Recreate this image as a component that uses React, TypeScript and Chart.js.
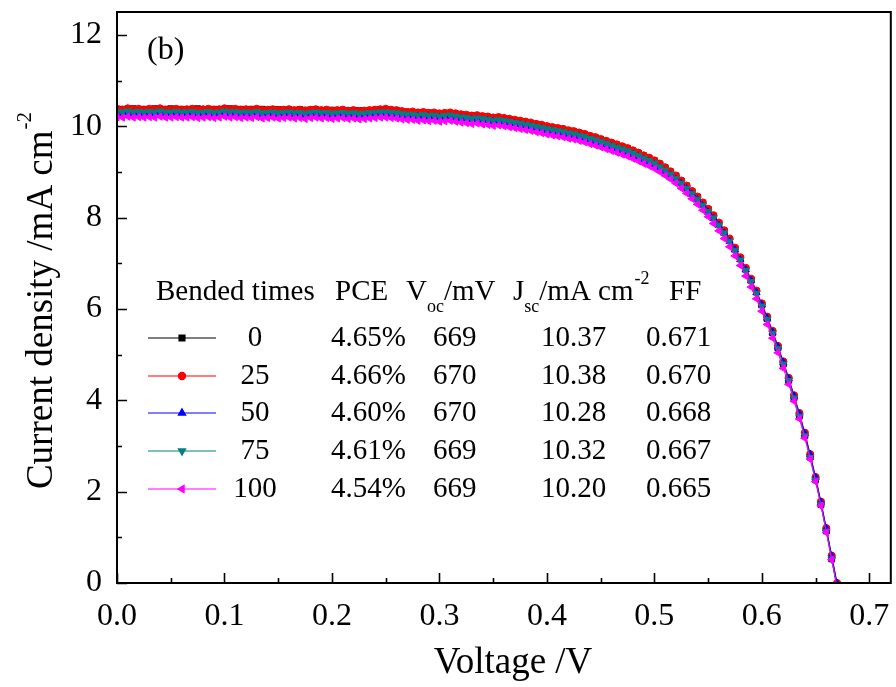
import React, { useEffect, useRef } from 'react';
import { Chart, registerables } from 'chart.js';
import { drawPoint } from 'chart.js/helpers';

Chart.register(...registerables);

const VOLTAGE = [
  0, 0.005, 0.01, 0.015, 0.02, 0.025, 0.03, 0.035, 0.04, 0.045,
  0.05, 0.055, 0.06, 0.065, 0.07, 0.075, 0.08, 0.085, 0.09, 0.095,
  0.1, 0.105, 0.11, 0.115, 0.12, 0.125, 0.13, 0.135, 0.14, 0.145,
  0.15, 0.155, 0.16, 0.165, 0.17, 0.175, 0.18, 0.185, 0.19, 0.195,
  0.2, 0.205, 0.21, 0.215, 0.22, 0.225, 0.23, 0.235, 0.24, 0.245,
  0.25, 0.255, 0.26, 0.265, 0.27, 0.275, 0.28, 0.285, 0.29, 0.295,
  0.3, 0.305, 0.31, 0.315, 0.32, 0.325, 0.33, 0.335, 0.34, 0.345,
  0.35, 0.355, 0.36, 0.365, 0.37, 0.375, 0.38, 0.385, 0.39, 0.395,
  0.4,
  0.405, 0.41, 0.415, 0.42, 0.425, 0.43, 0.435, 0.44, 0.445, 0.45,
  0.455, 0.46, 0.465, 0.47, 0.475, 0.48, 0.485, 0.49, 0.495, 0.5,
  0.505, 0.51, 0.515, 0.52, 0.525, 0.53, 0.535, 0.54, 0.545, 0.55,
  0.555, 0.56, 0.565, 0.57, 0.575, 0.58, 0.585, 0.59, 0.595, 0.6,
  0.605, 0.61, 0.615, 0.62, 0.625, 0.63, 0.635, 0.64, 0.645, 0.65,
  0.655, 0.66, 0.665, 0.67,
];

const J_BEND_0 = [
  10.37, 10.37, 10.36, 10.38, 10.36, 10.37, 10.36, 10.38, 10.36, 10.37,
  10.38, 10.36, 10.37, 10.36, 10.37, 10.38, 10.36, 10.36, 10.37, 10.36,
  10.37, 10.38, 10.36, 10.37, 10.36, 10.37, 10.36, 10.37, 10.35, 10.36,
  10.36, 10.35, 10.36, 10.34, 10.36, 10.35, 10.35, 10.36, 10.34, 10.35,
  10.35, 10.34, 10.35, 10.33, 10.34, 10.34, 10.33, 10.34, 10.35, 10.36,
  10.36, 10.35, 10.34, 10.32, 10.31, 10.30, 10.30, 10.29, 10.29, 10.28,
  10.28, 10.27, 10.28, 10.27, 10.25, 10.24, 10.23, 10.22, 10.21, 10.20,
  10.18, 10.18, 10.16, 10.15, 10.13, 10.11, 10.09, 10.06, 10.04, 10.02,
  9.99,
  9.97, 9.95, 9.93, 9.90, 9.88, 9.85, 9.82, 9.78, 9.75, 9.71,
  9.67, 9.63, 9.59, 9.55, 9.51, 9.46, 9.41, 9.35, 9.30, 9.24,
  9.17, 9.09, 9.00, 8.91, 8.80, 8.69, 8.57, 8.45, 8.32, 8.18,
  8.03, 7.87, 7.70, 7.52, 7.32, 7.10, 6.87, 6.63, 6.37, 6.09,
  5.79, 5.48, 5.15, 4.80, 4.44, 4.06, 3.66, 3.23, 2.76, 2.26,
  1.72, 1.14, 0.53, -0.09,
];

const J_BEND_25 = [
  10.38, 10.36, 10.39, 10.37, 10.38, 10.36, 10.38, 10.37, 10.39, 10.36,
  10.37, 10.38, 10.36, 10.37, 10.38, 10.36, 10.37, 10.38, 10.36, 10.37,
  10.39, 10.37, 10.38, 10.36, 10.37, 10.36, 10.38, 10.35, 10.36, 10.37,
  10.35, 10.36, 10.37, 10.35, 10.36, 10.34, 10.36, 10.37, 10.35, 10.36,
  10.34, 10.35, 10.36, 10.34, 10.35, 10.33, 10.34, 10.35, 10.36, 10.37,
  10.38, 10.36, 10.35, 10.33, 10.31, 10.32, 10.30, 10.31, 10.29, 10.30,
  10.28, 10.29, 10.30, 10.28, 10.26, 10.25, 10.23, 10.24, 10.22, 10.21,
  10.19, 10.20, 10.18, 10.16, 10.14, 10.12, 10.10, 10.08, 10.05, 10.03,
  10.00,
  9.98, 9.96, 9.94, 9.91, 9.89, 9.86, 9.83, 9.79, 9.76, 9.72,
  9.68, 9.64, 9.60, 9.56, 9.52, 9.47, 9.42, 9.36, 9.31, 9.25,
  9.18, 9.10, 9.01, 8.92, 8.81, 8.70, 8.58, 8.46, 8.33, 8.19,
  8.05, 7.89, 7.72, 7.54, 7.34, 7.13, 6.90, 6.66, 6.40, 6.12,
  5.83, 5.52, 5.19, 4.85, 4.49, 4.11, 3.72, 3.29, 2.82, 2.32,
  1.78, 1.20, 0.60, 0.00,
];

const J_BEND_50 = [
  10.28, 10.27, 10.29, 10.27, 10.28, 10.27, 10.28, 10.27, 10.29, 10.27,
  10.27, 10.28, 10.27, 10.27, 10.28, 10.26, 10.27, 10.28, 10.26, 10.27,
  10.29, 10.27, 10.28, 10.26, 10.27, 10.26, 10.28, 10.25, 10.26, 10.27,
  10.25, 10.26, 10.27, 10.25, 10.26, 10.24, 10.26, 10.27, 10.25, 10.26,
  10.24, 10.25, 10.26, 10.24, 10.25, 10.23, 10.24, 10.25, 10.26, 10.27,
  10.27, 10.26, 10.25, 10.23, 10.22, 10.22, 10.21, 10.21, 10.20, 10.20,
  10.19, 10.19, 10.20, 10.18, 10.17, 10.16, 10.14, 10.15, 10.13, 10.12,
  10.10, 10.11, 10.09, 10.07, 10.05, 10.03, 10.01, 9.99, 9.96, 9.94,
  9.91,
  9.89, 9.87, 9.85, 9.82, 9.80, 9.77, 9.74, 9.70, 9.67, 9.63,
  9.59, 9.55, 9.51, 9.47, 9.43, 9.38, 9.33, 9.27, 9.22, 9.16,
  9.09, 9.01, 8.93, 8.84, 8.74, 8.63, 8.51, 8.39, 8.26, 8.12,
  7.98, 7.83, 7.66, 7.48, 7.29, 7.08, 6.86, 6.62, 6.36, 6.09,
  5.80, 5.49, 5.17, 4.83, 4.47, 4.09, 3.70, 3.27, 2.81, 2.31,
  1.77, 1.19, 0.59, -0.01,
];

const J_BEND_75 = [
  10.32, 10.31, 10.33, 10.31, 10.32, 10.31, 10.32, 10.31, 10.33, 10.31,
  10.31, 10.32, 10.31, 10.31, 10.32, 10.30, 10.31, 10.32, 10.30, 10.31,
  10.33, 10.31, 10.32, 10.30, 10.31, 10.30, 10.32, 10.29, 10.30, 10.31,
  10.29, 10.30, 10.31, 10.29, 10.30, 10.28, 10.30, 10.31, 10.29, 10.30,
  10.28, 10.29, 10.30, 10.28, 10.29, 10.27, 10.28, 10.29, 10.30, 10.31,
  10.31, 10.30, 10.29, 10.27, 10.26, 10.26, 10.24, 10.25, 10.23, 10.24,
  10.22, 10.23, 10.24, 10.22, 10.20, 10.19, 10.17, 10.18, 10.16, 10.15,
  10.13, 10.14, 10.12, 10.10, 10.08, 10.06, 10.04, 10.02, 9.99, 9.97,
  9.94,
  9.92, 9.90, 9.88, 9.85, 9.83, 9.80, 9.77, 9.73, 9.70, 9.66,
  9.62, 9.58, 9.54, 9.50, 9.46, 9.41, 9.36, 9.30, 9.25, 9.19,
  9.12, 9.04, 8.95, 8.86, 8.75, 8.64, 8.52, 8.40, 8.27, 8.13,
  7.99, 7.83, 7.66, 7.48, 7.28, 7.07, 6.84, 6.60, 6.34, 6.06,
  5.77, 5.46, 5.13, 4.79, 4.43, 4.05, 3.65, 3.22, 2.75, 2.25,
  1.71, 1.13, 0.52, -0.10,
];

const J_BEND_100 = [
  10.20, 10.19, 10.21, 10.19, 10.20, 10.19, 10.20, 10.19, 10.21, 10.19,
  10.19, 10.20, 10.19, 10.19, 10.20, 10.18, 10.19, 10.20, 10.18, 10.19,
  10.21, 10.19, 10.20, 10.18, 10.19, 10.18, 10.20, 10.17, 10.18, 10.19,
  10.17, 10.18, 10.19, 10.17, 10.18, 10.16, 10.18, 10.19, 10.17, 10.18,
  10.16, 10.17, 10.18, 10.16, 10.17, 10.15, 10.16, 10.17, 10.18, 10.19,
  10.19, 10.18, 10.17, 10.15, 10.14, 10.14, 10.12, 10.13, 10.11, 10.12,
  10.10, 10.11, 10.12, 10.10, 10.08, 10.07, 10.05, 10.06, 10.04, 10.03,
  10.01, 10.02, 10.00, 9.98, 9.96, 9.94, 9.92, 9.90, 9.87, 9.85,
  9.82,
  9.80, 9.78, 9.76, 9.73, 9.71, 9.68, 9.65, 9.61, 9.58, 9.54,
  9.50, 9.46, 9.42, 9.38, 9.34, 9.29, 9.24, 9.18, 9.13, 9.07,
  9.00, 8.92, 8.84, 8.75, 8.64, 8.53, 8.41, 8.29, 8.16, 8.02,
  7.87, 7.71, 7.54, 7.36, 7.16, 6.95, 6.72, 6.48, 6.22, 5.95,
  5.66, 5.36, 5.04, 4.70, 4.35, 3.98, 3.59, 3.17, 2.71, 2.22,
  1.69, 1.11, 0.51, -0.11,
];

const SERIES_J = [J_BEND_0, J_BEND_25, J_BEND_50, J_BEND_75, J_BEND_100];
const BENDED_TIMES = ['0', '25', '50', '75', '100'];
const PCE = ['4.65%', '4.66%', '4.60%', '4.61%', '4.54%'];
const VOC = ['669', '670', '670', '669', '669'];
const JSC = ['10.37', '10.38', '10.28', '10.32', '10.20'];
const FF = ['0.671', '0.670', '0.668', '0.667', '0.665'];

const COLORS = ['#000000', '#ff0000', '#0000ff', '#008080', '#ff00ff'];
const POINT_STYLES = ['rect', 'circle', 'triangle', 'triangle', 'triangle'];
const POINT_ROTATIONS = [0, 0, 0, 180, -90];
const POINT_RADII = [4.2, 3.6, 4.2, 4.2, 4.2];

const X_TICKS = [0, 0.1, 0.2, 0.3, 0.4, 0.5, 0.6, 0.7];
const X_MINOR_TICKS = [0.05, 0.15, 0.25, 0.35, 0.45, 0.55, 0.65];
const Y_TICKS = [0, 2, 4, 6, 8, 10, 12];
const Y_MINOR_TICKS = [1, 3, 5, 7, 9, 11];

const FONT = '"Liberation Serif", "Times New Roman", serif';

const overlayPlugin = {
  id: 'overlay',
  afterDraw(chart: any) {
    const { ctx, chartArea, scales } = chart;
    const { left, right, top, bottom } = chartArea;
    const xs = scales.x;
    const ys = scales.y;
    ctx.save();
    ctx.strokeStyle = '#000';
    ctx.lineWidth = 1.6;
    ctx.beginPath();
    X_TICKS.forEach((v) => {
      const px = Math.round(xs.getPixelForValue(v)) + 0.5;
      ctx.moveTo(px, bottom);
      ctx.lineTo(px, bottom - 10);
    });
    X_MINOR_TICKS.forEach((v) => {
      const px = Math.round(xs.getPixelForValue(v)) + 0.5;
      ctx.moveTo(px, bottom);
      ctx.lineTo(px, bottom - 5);
    });
    Y_TICKS.forEach((v) => {
      const py = Math.round(ys.getPixelForValue(v)) + 0.5;
      ctx.moveTo(left, py);
      ctx.lineTo(left + 10, py);
    });
    Y_MINOR_TICKS.forEach((v) => {
      const py = Math.round(ys.getPixelForValue(v)) + 0.5;
      ctx.moveTo(left, py);
      ctx.lineTo(left + 5, py);
    });
    ctx.stroke();
    ctx.lineWidth = 2;
    ctx.strokeRect(left, top, right - left, bottom - top);

    ctx.fillStyle = '#000';
    ctx.textBaseline = 'middle';

    // x title
    ctx.font = `37px ${FONT}`;
    ctx.textAlign = 'center';
    ctx.fillText('Voltage /V', 513, 663);

    // y title with superscript
    const mainY = 'Current density /mA cm';
    const supY = '-2';
    ctx.font = `37px ${FONT}`;
    const wMain = ctx.measureText(mainY).width;
    ctx.font = `21px ${FONT}`;
    const wSup = ctx.measureText(supY).width;
    ctx.save();
    ctx.translate(42, 301);
    ctx.rotate(-Math.PI / 2);
    ctx.textAlign = 'left';
    const start = -(wMain + wSup) / 2;
    ctx.font = `37px ${FONT}`;
    ctx.fillText(mainY, start, 0);
    ctx.font = `21px ${FONT}`;
    ctx.fillText(supY, start + wMain + 1, -17);
    ctx.restore();

    // panel label
    ctx.font = `32px ${FONT}`;
    ctx.textAlign = 'left';
    ctx.fillText('(b)', 147, 51);

    // legend table
    const FS = 29;
    const SUB = 18;
    const headY = 292;
    ctx.font = `${FS}px ${FONT}`;
    ctx.textAlign = 'left';
    ctx.fillText('Bended times', 156, headY);
    ctx.fillText('PCE', 335, headY);
    let xx = 406;
    ctx.fillText('V', xx, headY);
    xx += ctx.measureText('V').width;
    ctx.font = `${SUB}px ${FONT}`;
    ctx.fillText('oc', xx, headY + 15);
    xx += ctx.measureText('oc').width;
    ctx.font = `${FS}px ${FONT}`;
    ctx.fillText('/mV', xx, headY);
    xx = 513;
    ctx.fillText('J', xx, headY);
    xx += ctx.measureText('J').width;
    ctx.font = `${SUB}px ${FONT}`;
    ctx.fillText('sc', xx, headY + 15);
    xx += ctx.measureText('sc').width;
    ctx.font = `${FS}px ${FONT}`;
    ctx.fillText('/mA cm', xx, headY);
    xx += ctx.measureText('/mA cm').width;
    ctx.font = `${SUB}px ${FONT}`;
    ctx.fillText('-2', xx + 1, headY - 13);
    ctx.font = `${FS}px ${FONT}`;
    ctx.fillText('FF', 669, headY);

    const rowY = [338, 376, 413, 451, 489];
    BENDED_TIMES.forEach((label, i) => {
      const y = rowY[i];
      ctx.strokeStyle = COLORS[i];
      ctx.fillStyle = COLORS[i];
      ctx.lineWidth = 1.2;
      ctx.beginPath();
      ctx.moveTo(148, y);
      ctx.lineTo(216, y);
      ctx.stroke();
      drawPoint(ctx, {
        pointStyle: POINT_STYLES[i],
        radius: POINT_RADII[i],
        rotation: POINT_ROTATIONS[i],
        borderWidth: 1,
      }, 182, y);
      ctx.fillStyle = '#000';
      ctx.font = `${FS}px ${FONT}`;
      ctx.textAlign = 'center';
      ctx.fillText(label, 255, y);
      ctx.textAlign = 'left';
      ctx.fillText(PCE[i], 331, y);
      ctx.fillText(VOC[i], 433, y);
      ctx.fillText(JSC[i], 541, y);
      ctx.fillText(FF[i], 646, y);
    });
    ctx.restore();
  },
};

export default function App() {
  const canvasRef = useRef<HTMLCanvasElement | null>(null);

  useEffect(() => {
    const canvas = canvasRef.current;
    if (!canvas) return;
    const datasets = SERIES_J.map((series, i) => ({
      label: BENDED_TIMES[i],
      data: VOLTAGE.map((v, k) => ({ x: v, y: series[k] })),
      borderColor: COLORS[i],
      backgroundColor: COLORS[i],
      borderWidth: 1,
      pointStyle: POINT_STYLES[i],
      pointRotation: POINT_ROTATIONS[i],
      pointRadius: POINT_RADII[i],
      pointBorderWidth: 1,
      pointBorderColor: COLORS[i],
      pointBackgroundColor: COLORS[i],
      tension: 0,
      order: SERIES_J.length - i,
    }));

    const chart = new Chart(canvas, {
      type: 'line',
      data: { datasets },
      options: {
        animation: false,
        responsive: false,
        maintainAspectRatio: false,
        devicePixelRatio: 1,
        layout: { padding: { left: 0, top: 12, right: 4, bottom: 0 } },
        plugins: {
          legend: { display: false },
          tooltip: { enabled: false },
          title: { display: false },
        },
        scales: {
          x: {
            type: 'linear',
            min: 0,
            max: 0.72,
            afterBuildTicks: (s: any) => {
              s.ticks = X_TICKS.map((v) => ({ value: v }));
            },
            afterFit: (s: any) => {
              s.height = 104;
              s.paddingLeft = 0;
              s.paddingRight = 0;
            },
            grid: { display: false },
            border: { display: false },
            ticks: {
              color: '#000',
              padding: 6,
              maxRotation: 0,
              autoSkip: false,
              font: { family: FONT, size: 32 },
              callback: (v: any) => Number(v).toFixed(1),
            },
          },
          y: {
            type: 'linear',
            min: 0,
            max: 12.5,
            afterBuildTicks: (s: any) => {
              s.ticks = Y_TICKS.map((v) => ({ value: v }));
            },
            afterFit: (s: any) => {
              s.width = 117;
              s.paddingTop = 0;
              s.paddingBottom = 0;
            },
            grid: { display: false },
            border: { display: false },
            ticks: {
              color: '#000',
              padding: 7,
              autoSkip: false,
              font: { family: FONT, size: 32 },
              callback: (v: any) => String(v),
            },
          },
        },
      },
      plugins: [overlayPlugin],
    });
    return () => chart.destroy();
  }, []);

  return (
    <div style={{ position: 'absolute', left: 0, top: 0, width: 896, height: 687, background: '#fff' }}>
      <canvas ref={canvasRef} width={896} height={687} style={{ width: 896, height: 687, display: 'block' }} />
    </div>
  );
}
